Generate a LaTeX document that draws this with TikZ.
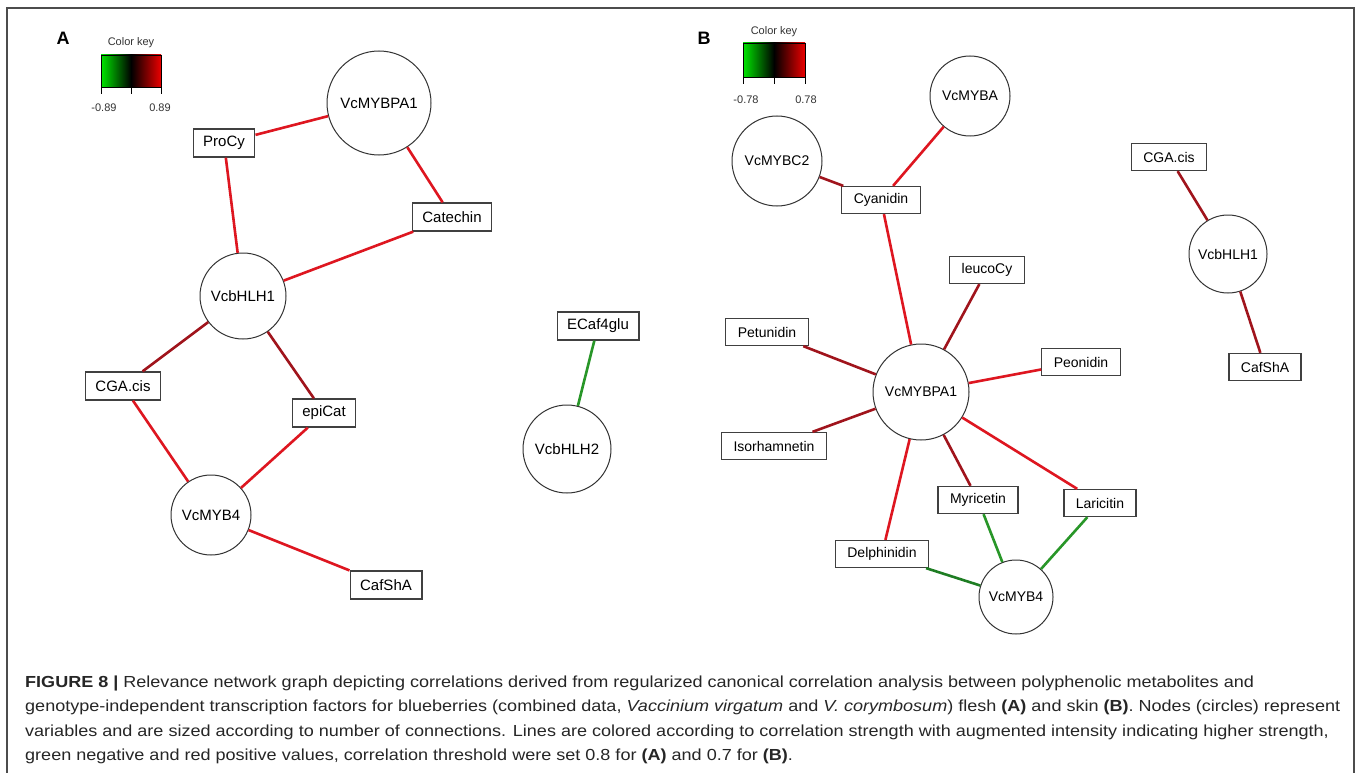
\documentclass[tikz,border=0pt]{standalone}
\usepackage{fontspec}
\setmainfont{Liberation Sans}
\newfontfamily\capfont[FakeStretch=1.127]{Liberation Sans}
\begin{document}
\begin{tikzpicture}[x=1pt,y=-1pt,
  cnode/.style={circle,draw=black!80,line width=1pt,fill=white,inner sep=0pt,minimum size=#1},
  boxA/.style={rectangle,draw=black!75,line width=1.3pt,fill=white,inner xsep=10pt,inner ysep=0pt,minimum height=28pt,font=\fontsize{15}{15}\selectfont},
  boxB/.style={rectangle,draw=black!75,line width=1.3pt,fill=white,inner xsep=12pt,inner ysep=0pt,minimum height=27pt,font=\fontsize{14}{14}\selectfont},
  fA/.style={font=\fontsize{15}{15}\selectfont},
  fB/.style={font=\fontsize{14}{14}\selectfont},
  ered/.style={line width=2.6pt,draw={rgb,255:red,222;green,22;blue,32}},
  edark/.style={line width=2.6pt,draw={rgb,255:red,160;green,20;blue,28}},
  egreen/.style={line width=2.6pt,draw={rgb,255:red,40;green,150;blue,40}},
  edgreen/.style={line width=2.6pt,draw={rgb,255:red,30;green,125;blue,35}},
  keytxt/.style={font=\fontsize{11}{11}\selectfont,text=black!80},
  panel/.style={font=\fontsize{18}{18}\selectfont\bfseries},
  captxt/.style={anchor=base west,inner sep=0pt,font=\capfont\fontsize{16}{16}\selectfont,text=black!85}
]
\useasboundingbox (0,0) rectangle (1357,773);
\fill[white] (0,0) rectangle (1357,773);
% frame
\draw[black!70,line width=2pt] (7,780) -- (7,8) -- (1354,8) -- (1354,780);

% ---------- Panel A ----------
\node[panel] (labA) at (63,38) {A};
\node[keytxt] (ckA) at (131,43) {Color key};
\shade[left color={rgb,255:red,0;green,230;blue,0},right color={rgb,255:red,235;green,0;blue,0},middle color=black] (101,55) rectangle (161,87);
\draw[black,line width=0.8pt] (101,55) rectangle (161,87);
\draw[black,line width=0.8pt] (101,87) -- (101,94) (131,87) -- (131,94) (161,87) -- (161,94);
\node[keytxt] (kA1) at (104,108) {-0.89};
\node[keytxt] (kA2) at (160,108) {0.89};

\node[cnode=104pt,fA] (aPA1) at (379,103) {VcMYBPA1};
\node[boxA] (aProCy) at (224,143) {ProCy};
\node[boxA] (aCat) at (452,217) {Catechin};
\node[cnode=86pt,fA] (aHLH1) at (243,296) {VcbHLH1};
\node[boxA] (aCGA) at (123,386) {CGA.cis};
\node[boxA] (aEpi) at (324,413) {epiCat};
\node[cnode=80pt,fA] (aMYB4) at (211,515) {VcMYB4};
\node[boxA] (aCaf) at (386,585) {CafShA};
\node[boxA] (aECaf) at (598,326) {ECaf4glu};
\node[cnode=88pt,fA] (aHLH2) at (567,449) {VcbHLH2};

\draw[ered] (aProCy) -- (aPA1);
\draw[ered] (aPA1) -- (aCat);
\draw[ered] (aProCy) -- (aHLH1);
\draw[ered] (aCat) -- (aHLH1);
\draw[edark] (aHLH1) -- (aCGA);
\draw[edark] (aHLH1) -- (aEpi);
\draw[ered] (aCGA) -- (aMYB4);
\draw[ered] (aEpi) -- (aMYB4);
\draw[ered] (aMYB4) -- (aCaf);
\draw[egreen] (aECaf) -- (aHLH2);

% ---------- Panel B ----------
\node[panel] (labB) at (704,38) {B};
\node[keytxt] (ckB) at (774,32) {Color key};
\shade[left color={rgb,255:red,0;green,230;blue,0},right color={rgb,255:red,235;green,0;blue,0},middle color=black] (743,43) rectangle (805,77);
\draw[black,line width=0.8pt] (743,43) rectangle (805,77);
\draw[black,line width=0.8pt] (743,77) -- (743,84) (774,77) -- (774,84) (805,77) -- (805,84);
\node[keytxt] (kB1) at (746,100) {-0.78};
\node[keytxt] (kB2) at (806,100) {0.78};

\node[cnode=80pt,fB] (bMYBA) at (970,96) {VcMYBA};
\node[cnode=90pt,fB] (bC2) at (777,161) {VcMYBC2};
\node[boxB] (bCya) at (881,200) {Cyanidin};
\node[boxB] (bLeu) at (987,270) {leucoCy};
\node[boxB] (bPet) at (767,332) {Petunidin};
\node[cnode=96pt,fB] (bPA1) at (921,392) {VcMYBPA1};
\node[boxB] (bPeo) at (1081,362) {Peonidin};
\node[boxB] (bIso) at (774,446) {Isorhamnetin};
\node[boxB] (bMyr) at (978,500) {Myricetin};
\node[boxB] (bLar) at (1100,503) {Laricitin};
\node[boxB] (bDel) at (882,554) {Delphinidin};
\node[cnode=74pt,fB] (bMYB4) at (1016,597) {VcMYB4};
\node[boxB] (bCGA) at (1169,157) {CGA.cis};
\node[cnode=78pt,fB] (bHLH1) at (1228,254) {VcbHLH1};
\node[boxB] (bCaf) at (1265,367) {CafShA};

\draw[edark] (bC2) -- (bCya);
\draw[ered] (bCya) -- (bMYBA);
\draw[ered] (bCya) -- (bPA1);
\draw[edark] (bLeu) -- (bPA1);
\draw[edark] (bPet) -- (bPA1);
\draw[ered] (bPeo) -- (bPA1);
\draw[edark] (bIso) -- (bPA1);
\draw[ered] (bDel) -- (bPA1);
\draw[edark] (bMyr) -- (bPA1);
\draw[ered] (bLar) -- (bPA1);
\draw[egreen] (bMyr) -- (bMYB4);
\draw[egreen] (bLar) -- (bMYB4);
\draw[edgreen] (bDel) -- (bMYB4);
\draw[edark] (bCGA) -- (bHLH1);
\draw[edark] (bHLH1) -- (bCaf);

% ---------- Caption ----------
\node[captxt] (c1) at (25,687) {\textbf{FIGURE 8 |} Relevance network graph depicting correlations derived from regularized canonical correlation analysis between polyphenolic metabolites and};
\node[captxt] (c2) at (25,711.5) {genotype-independent transcription factors for blueberries (combined data, \textit{Vaccinium virgatum} and \textit{V. corymbosum}) flesh \textbf{(A)} and skin \textbf{(B)}. Nodes (circles) represent};
\node[captxt] (c3) at (25,736) {variables and are sized according to number of connections. Lines are colored according to correlation strength with augmented intensity indicating higher strength,};
\node[captxt] (c4) at (25,760.5) {green negative and red positive values, correlation threshold were set 0.8 for \textbf{(A)} and 0.7 for \textbf{(B)}.};
\end{tikzpicture}
\end{document}
